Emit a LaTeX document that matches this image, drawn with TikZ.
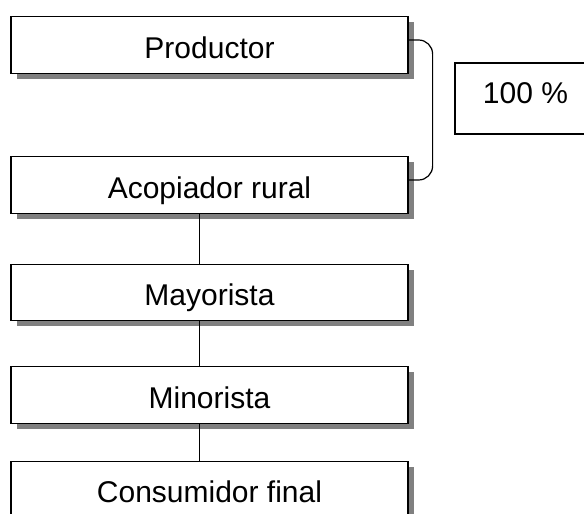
\documentclass[tikz,border=0pt]{standalone}
\usepackage{fontspec}
\setmainfont{Liberation Sans}
\usetikzlibrary{shadows}

\begin{document}
\begin{tikzpicture}[x=1pt, y=-1pt,
    etapa/.style={draw, line width=1.2pt, fill=white, minimum width=397pt, minimum height=56.5pt,
        inner sep=0pt, text height=26.6pt, text depth=0pt, font=\fontsize{30}{34}\selectfont,
        drop shadow={shadow xshift=5.5pt, shadow yshift=-5.5pt, fill=gray, opacity=1}},
    enlace/.style={line width=0.9pt}]
        \clip (0,0) rectangle (584,514);
        % Chain boxes
        \node[etapa] (prod) at (209.5,45) {Productor};
        \node[etapa] (acop) at (209.5,185) {Acopiador rural};
        \node[etapa] (mayo) at (209.5,292.5) {Mayorista};
        \node[etapa] (mino) at (209.5,395) {Minorista};
        \node[etapa] (cons) at (209.5,489.5) {Consumidor final};
        
        % Share box
        \node[draw, line width=1.2pt, minimum width=141pt, minimum height=71pt, inner sep=0pt,
            text height=21.5pt, text depth=12.5pt,
            font=\fontsize{30}{34}\selectfont] (pct) at (525.5,98.5) {100 \%};
        
        % Links
        \draw[enlace] ([xshift=-10.5pt]acop.south) -- ([xshift=-10.5pt]mayo.north);
        \draw[enlace] ([xshift=-10.5pt]mayo.south) -- ([xshift=-10.5pt]mino.north);
        \draw[enlace] ([xshift=-10.5pt]mino.south) -- ([xshift=-10.5pt]cons.north);
        \draw[line width=1.2pt, rounded corners=14pt] ([yshift=5pt]prod.east) -- ++(24,0) |- ([yshift=5pt]acop.east);
    \end{tikzpicture}
\end{document}
